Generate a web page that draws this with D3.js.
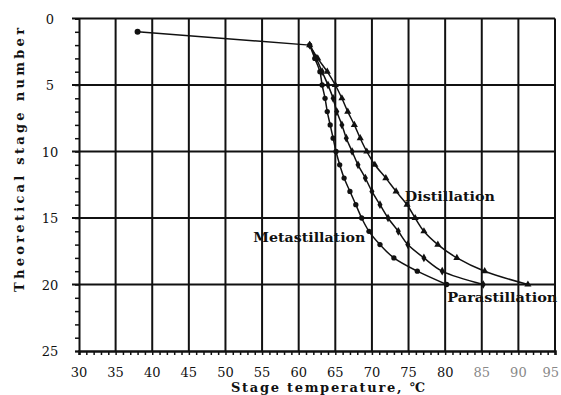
<!DOCTYPE html>
<html>
<head>
<meta charset="utf-8">
<script src="https://cdn.jsdelivr.net/npm/d3@7"></script>
<style>
  body { margin: 0; background: #fff; }
  svg { display: block; }
  text { font-family: "DejaVu Serif", serif; fill: #111; }
</style>
</head>
<body>
<script>
"use strict";

// stage numbers and temperatures
var stages = [2, 3, 4, 5, 6, 7, 8, 9, 10, 11, 12, 13, 14, 15, 16, 17, 18, 19, 20];
var metaTemp = [61.5, 62.2, 62.9, 63.2, 63.6, 63.9, 64.3, 64.7, 65.1, 65.6, 66.2, 67.0, 67.8, 68.6, 69.6, 71.1, 73.0, 76.2, 80.2];
var paraTemp = [61.5, 62.4, 63.2, 64.0, 64.7, 65.2, 65.9, 66.5, 67.3, 68.1, 69.1, 70.0, 71.1, 72.2, 73.6, 74.9, 77.1, 79.6, 85.2];
var distTemp = [61.5, 62.6, 63.9, 65.0, 65.9, 66.7, 67.6, 68.4, 69.3, 70.4, 71.9, 73.3, 74.8, 75.9, 77.1, 79.0, 81.6, 85.4, 91.3];
var feedTemp = [38, 61.5];
var feedStage = [1, 2];
var xTicks = [30, 35, 40, 45, 50, 55, 60, 65, 70, 75, 80, 85, 90, 95];
var yTicks = [0, 5, 10, 15, 20, 25];
var curveNames = ["Distillation", "Metastillation", "Parastillation"];

var W = 561, H = 395;

var svg = d3.select("body").append("svg").attr("width", W).attr("height", H);

var x = d3.scaleLinear().domain([30, 95]).range([79, 555]);
var y = d3.scaleLinear().domain([0, 25]).range([18.5, 351]);

//Grid
var grid = svg.append("g").attr("class", "grid").attr("stroke", "#111").attr("stroke-width", 2);
grid.selectAll("line.v").data(xTicks.slice(1)).enter().append("line").attr("class", "v")
  .attr("x1", function (d) { return x(d); }).attr("x2", function (d) { return x(d); })
  .attr("y1", y(0)).attr("y2", y(25));
grid.selectAll("line.h").data(yTicks.slice(0, -1)).enter().append("line").attr("class", "h")
  .attr("x1", x(30) - 7).attr("x2", x(95))
  .attr("y1", function (d) { return y(d); }).attr("y2", function (d) { return y(d); });

//Axes with minor ticks
var xAxis = d3.axisBottom(x).tickValues(d3.range(30, 96, 1)).tickSize(4).tickFormat("");
svg.append("g").attr("transform", "translate(0," + y(25) + ")").call(xAxis)
  .call(function (g) {
    g.select(".domain").attr("stroke", "#111").attr("stroke-width", 2.5);
    g.selectAll(".tick line").attr("stroke", "#111").attr("stroke-width", 1.5);
  });

var yAxis = d3.axisLeft(y).tickValues(d3.range(0, 26, 1)).tickSize(4).tickFormat("");
svg.append("g").attr("transform", "translate(" + x(30) + ",0)").call(yAxis)
  .call(function (g) {
    g.select(".domain").attr("stroke", "#111").attr("stroke-width", 2);
    g.selectAll(".tick line").attr("stroke", "#111").attr("stroke-width", 1.5);
  });

//Tick labels
svg.append("g").selectAll("text").data(xTicks).enter().append("text")
  .attr("x", function (d) { return d === 95 ? x(d) + 4 : x(d); }).attr("y", y(25) + 26)
  .attr("text-anchor", function (d) { return d === 95 ? "end" : "middle"; })
  .style("font-size", "13px")
  .style("fill", function (d) { return d > 80 ? "#888" : "#111"; })
  .text(function (d) { return d; });

svg.append("g").selectAll("text").data(yTicks).enter().append("text")
  .attr("x", 50).attr("y", function (d) { return y(d) + 5; })
  .attr("text-anchor", "middle").style("font-size", "13px")
  .text(function (d) { return d; });

//Axis titles
svg.append("text").attr("transform", "translate(24," + 160 + ") rotate(-90)")
  .attr("text-anchor", "middle").style("font-size", "13px").style("font-weight", "bold")
  .attr("textLength", 264).attr("lengthAdjust", "spacing")
  .text("Theoretical stage number");

svg.append("text").attr("x", 328).attr("y", 392)
  .attr("text-anchor", "middle").style("font-size", "13px").style("font-weight", "bold")
  .attr("textLength", 194).attr("lengthAdjust", "spacing")
  .text("Stage temperature, \u2103");

//Curves
var line = d3.line()
  .x(function (d) { return x(d[0]); })
  .y(function (d) { return y(d[1]); });

svg.append("path").datum(d3.zip(feedTemp, feedStage)).attr("d", line)
  .attr("fill", "none").attr("stroke", "#111").attr("stroke-width", 1.4);
svg.append("circle").attr("cx", x(feedTemp[0])).attr("cy", y(feedStage[0])).attr("r", 3).attr("fill", "#111");

var series = [
  { temps: distTemp, shape: d3.symbolTriangle, size: 22 },
  { temps: metaTemp, shape: d3.symbolCircle, size: 22 },
  { temps: paraTemp, shape: d3.symbolDiamond, size: 22 }
];

series.forEach(function (s) {
  var pts = d3.zip(s.temps, stages);
  svg.append("path").datum(pts).attr("d", line.curve(d3.curveCatmullRom))
    .attr("fill", "none").attr("stroke", "#111").attr("stroke-width", 1.5);
  svg.append("g").selectAll("path").data(pts).enter().append("path")
    .attr("d", d3.symbol().type(s.shape).size(s.size))
    .attr("transform", function (d) { return "translate(" + x(d[0]) + "," + y(d[1]) + ")"; })
    .attr("fill", "#111");
});

//Curve labels
var labelPos = [[74.5, 13.7], [53.8, 16.8], [80.3, 21.3]];
var labelLen = [90, 112, 110];
svg.append("g").selectAll("text").data(curveNames).enter().append("text")
  .attr("x", function (d, i) { return x(labelPos[i][0]); })
  .attr("y", function (d, i) { return y(labelPos[i][1]); })
  .attr("textLength", function (d, i) { return labelLen[i]; })
  .attr("lengthAdjust", "spacingAndGlyphs")
  .style("font-size", "13px").style("font-weight", "bold")
  .text(function (d) { return d; });
</script>
</body>
</html>
